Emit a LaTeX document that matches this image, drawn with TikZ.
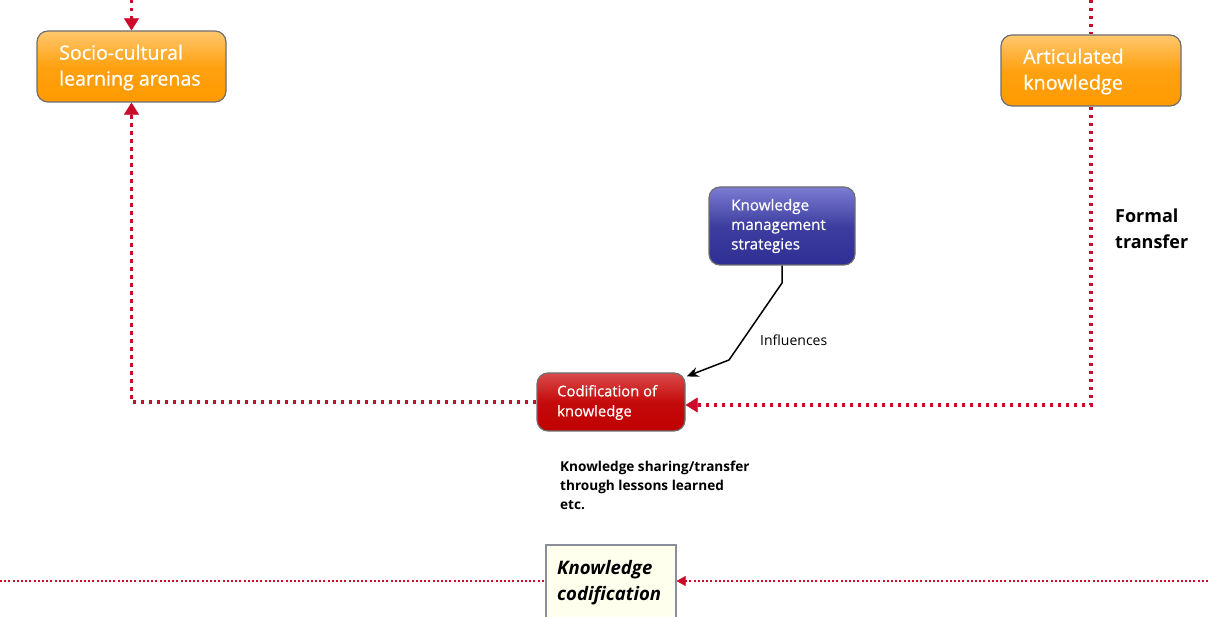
\documentclass[tikz,border=0pt]{standalone}
\usepackage{fontspec}
\setmainfont{Open Sans}
\newfontfamily\boxfont[FakeBold=0.6]{Open Sans}
\usetikzlibrary{arrows.meta,calc}
\definecolor{dotred}{HTML}{CC0A2A}
\definecolor{boxgrey}{HTML}{6E6E6E}
\definecolor{orTop}{HTML}{FFC76E}
\definecolor{orBot}{HTML}{FF9A00}
\definecolor{blTop}{HTML}{7C7CD2}
\definecolor{blBot}{HTML}{2E2E94}
\definecolor{rdTop}{HTML}{DA4A4A}
\definecolor{rdBot}{HTML}{C00000}
\definecolor{kcfill}{HTML}{FFFFEE}
\definecolor{kcgrey}{HTML}{8A8F99}
\begin{document}
\begin{tikzpicture}[x=1pt,y=-1pt,
  box/.style={draw=boxgrey, line width=1.2pt, rounded corners=11pt, inner sep=0pt},
  orangebox/.style={box, top color=orTop, bottom color=orBot, middle color=orBot!85!orTop},
  bluebox/.style={box, top color=blTop, bottom color=blBot, middle color=blBot!80!blTop},
  redbox/.style={box, top color=rdTop, bottom color=rdBot, middle color=rdBot!85!rdTop},
  txt/.style={inner sep=0pt, anchor=west, align=left},
  flow/.style={draw=dotred, line width=3.5pt, dash pattern=on 3.5pt off 4.5pt},
  flowtip/.style={-{Triangle[length=12pt,width=15pt]}, dotred},
  thinflow/.style={draw=dotred, line width=2pt, dash pattern=on 2pt off 2.2pt},
  influence/.style={draw=black, line width=1.5pt, -{Stealth[length=12pt,width=10pt]}}
]
\useasboundingbox (0,0) rectangle (1208,617);
\fill[white] (0,0) rectangle (1208,617);

% boxes
\node[orangebox, minimum width=189pt, minimum height=71pt] (socio) at (131.5,66.5) {};
\node[txt, text=white, font=\boxfont\fontsize{19.6pt}{26pt}\selectfont] (sociot) at (59,67.5) {Socio-cultural\\learning arenas};

\node[orangebox, minimum width=180pt, minimum height=71pt] (art) at (1091,70.5) {};
\node[txt, text=white, font=\boxfont\fontsize{19.8pt}{26pt}\selectfont] (artt) at (1023,71.5) {Articulated\\knowledge};

\node[bluebox, minimum width=146pt, minimum height=78pt] (kms) at (782,226) {};
\node[txt, text=white, font=\boxfont\fontsize{15.2pt}{19.5pt}\selectfont] (kmst) at (731,226) {Knowledge\\management\\strategies};

\node[redbox, minimum width=148pt, minimum height=58pt] (cod) at (611,402) {};
\node[txt, text=white, font=\boxfont\fontsize{14.8pt}{20pt}\selectfont] (codt) at (557,402.5) {Codification of\\knowledge};

\node[draw=kcgrey, line width=1.2pt, fill=kcfill, minimum width=130pt, minimum height=84pt, inner sep=0pt] (kc) at (611,587) {};
\node[txt, font=\bfseries\itshape\fontsize{18.6pt}{26pt}\selectfont] (kct) at (557,582.5) {Knowledge\\codification};

% free texts
\node[txt, font=\bfseries\fontsize{18pt}{26pt}\selectfont] (formal) at (1115,229) {Formal\\transfer};
\node[txt, font=\bfseries\fontsize{13.6pt}{19pt}\selectfont] (share) at (560,485) {Knowledge sharing/transfer\\through lessons learned\\etc.};
\node[txt, font=\fontsize{14pt}{17pt}\selectfont] (infl) at (760,340.5) {Influences};

% coordinates
\coordinate (topL) at (131.5,0);
\coordinate (topR) at (1091,0);
\coordinate (kb1) at (782,283);
\coordinate (kb2) at (729,360);
\coordinate (bl) at (0,581);
\coordinate (br) at (1208,581);

% red dotted flows
\draw[flow] (topL) -- ($(socio.north)+(0,-8)$);
\draw[flowtip] ($(socio.north)+(0,-12)$) -- (socio.north);
\draw[flow] (cod.west) -| ($(socio.south)+(0,8)$);
\draw[flowtip] ($(socio.south)+(0,12)$) -- (socio.south);
\draw[flow] (topR) -- (art.north);
\draw[flow] (art.south) |- ($(cod.east)+(8,3)$);
\draw[flowtip] ($(cod.east)+(12,3)$) -- ($(cod.east)+(0,3)$);

\draw[thinflow] (bl) -- (bl -| kc.west);
\draw[thinflow] (br) -- ($(br -| kc.east)+(8,0)$);
\draw[-{Triangle[length=9pt,width=10pt]}, dotred] ($(br -| kc.east)+(10,0)$) -- (br -| kc.east);

% influence arrow
\draw[influence] (kms.south) -- (kb1) -- (kb2) -- ($(cod.north east)+(1,4)$);
\end{tikzpicture}
\end{document}
